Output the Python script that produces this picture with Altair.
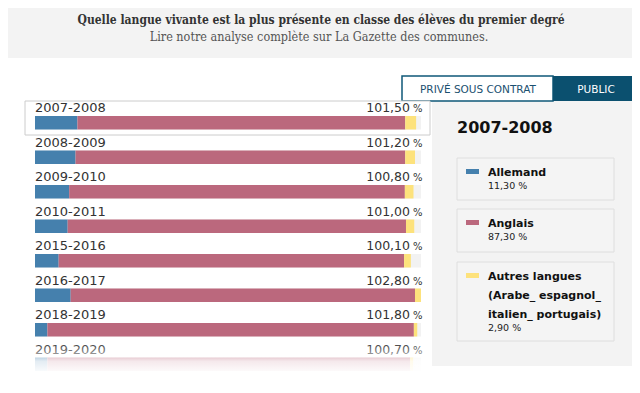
import altair as alt
import pandas as pd

# ---------------- data ----------------
YEARS = ["2007-2008", "2008-2009", "2009-2010", "2010-2011",
         "2015-2016", "2016-2017", "2018-2019", "2019-2020"]
ALLEMAND = [11.3, 10.8, 9.1, 8.7, 6.3, 9.5, 3.3, 3.3]
ANGLAIS = [87.3, 87.8, 89.4, 90.1, 92.0, 91.7, 97.6, 96.6]
AUTRES = [2.9, 2.6, 2.3, 2.2, 1.8, 1.6, 0.9, 0.8]
TOTALS = [101.5, 101.2, 100.8, 101.0, 100.1, 102.8, 101.8, 100.7]
LANGS = ["Allemand", "Anglais", "Autres langues"]
LEGEND_LINES = [["Allemand"], ["Anglais"],
                ["Autres langues", "(Arabe_ espagnol_", "italien_ portugais)"]]
COLORS = ["#4580ad", "#bb687d", "#fde27c"]
SELECTED = "2007-2008"
TITLE = "Quelle langue vivante est la plus présente en classe des élèves du premier degré"
SUBTITLE = "Lire notre analyse complète sur La Gazette des communes."
BUTTONS = ["PRIVÉ SOUS CONTRAT", "PUBLIC"]

SANS = "DejaVu Sans"
SERIF = "DejaVu Serif Condensed, Liberation Serif"


def fr(v):
    return f"{v:.2f}".replace(".", ",")


series = [ALLEMAND, ANGLAIS, AUTRES]
rows = []
for i, yr in enumerate(YEARS):
    for k, lang in enumerate(LANGS):
        rows.append(dict(year=yr, lang=lang, value=series[k][i], order=k))
long = pd.DataFrame(rows)
tot = pd.DataFrame(dict(year=YEARS, total=TOTALS,
                        label=[fr(t) for t in TOTALS],
                        track=[max(TOTALS)] * len(YEARS)))
one = pd.DataFrame({"a": [0]})

W, H = 624, 377
xs = alt.Scale(domain=[0, max(TOTALS)], range=[27, 413], nice=False, zero=True)
ys = alt.Scale(type="band", domain=YEARS, range=[108, 363],
               paddingInner=0.609, paddingOuter=0)
cs = alt.Scale(domain=LANGS, range=COLORS)


def rect(x, x2, y, y2, **kw):
    return alt.Chart(one).mark_rect(**kw).encode(
        x=alt.value(x), x2=alt.value(x2), y=alt.value(y), y2=alt.value(y2))


def txt(s, x, y, **kw):
    return alt.Chart(pd.DataFrame({"t": [s]})).mark_text(**kw).encode(
        x=alt.value(x), y=alt.value(y), text="t:N")


layers = []
# header band
layers.append(rect(0, W, 0, 50, fill="#f3f3f3"))
layers.append(txt(TITLE, 313, 16, font=SERIF, fontSize=12, fontWeight="bold",
                  color="#333333", align="center", baseline="alphabetic"))
layers.append(txt(SUBTITLE, 311, 33, font=SERIF, fontSize=12.5,
                  color="#555555", align="center", baseline="alphabetic"))
# right panel background
layers.append(rect(424, W, 93, 358, fill="#f3f3f3"))
# buttons
layers.append(rect(394, 545, 68, 93, fill="#ffffff", stroke="#0f5878", strokeWidth=1.5))
layers.append(rect(545, W, 68, 93, fill="#0b506f"))
layers.append(txt(BUTTONS[0], 470, 84.5, font=SANS, fontSize=10.5, color="#1b5070",
                  align="center", baseline="alphabetic"))
layers.append(txt(BUTTONS[1], 588, 84.5, font=SANS, fontSize=10.5, color="#ffffff",
                  align="center", baseline="alphabetic"))
# selected row box
layers.append(rect(17, 422, 93, 127, fill="#ffffff", stroke="#cccccc", strokeWidth=1))

# tracks
layers.append(alt.Chart(tot).mark_bar(color="#f2f2f2").encode(
    x=alt.X("track:Q", scale=xs, axis=None), x2=alt.datum(0),
    y=alt.Y("year:N", scale=ys, axis=None)))
# stacked bars
layers.append(alt.Chart(long).mark_bar().encode(
    x=alt.X("value:Q", stack="zero", scale=xs, axis=None),
    y=alt.Y("year:N", scale=ys, axis=None),
    color=alt.Color("lang:N", scale=cs, legend=None),
    order=alt.Order("order:Q")))
# year labels
layers.append(alt.Chart(tot).mark_text(font=SANS, fontSize=13, color="#333333",
                                        align="left", baseline="alphabetic", dy=-10.5).encode(
    x=alt.value(27), y=alt.Y("year:N", scale=ys, axis=None), text="year:N"))
layers.append(alt.Chart(tot).mark_text(font=SANS, fontSize=12.5, color="#333333",
                                        align="right", baseline="alphabetic", dy=-10.5).encode(
    x=alt.value(402), y=alt.Y("year:N", scale=ys, axis=None), text="label:N"))
layers.append(alt.Chart(tot).mark_text(font=SANS, fontSize=10, color="#333333",
                                        align="left", baseline="alphabetic", dy=-10.5).encode(
    x=alt.value(405), y=alt.Y("year:N", scale=ys, axis=None), text=alt.value("%")))

# fade overlay on the last row
fade = alt.Gradient(gradient="linear", x1=0, x2=0, y1=0, y2=1, stops=[
    alt.GradientStop(color="rgba(255,255,255,0)", offset=0),
    alt.GradientStop(color="rgba(255,255,255,0.45)", offset=0.35),
    alt.GradientStop(color="rgba(255,255,255,0.85)", offset=0.6),
    alt.GradientStop(color="rgba(255,255,255,1)", offset=1)])
layers.append(rect(17, 424, 334, 366, fill=fade))

# panel: selected year and legend boxes
sel = YEARS.index(SELECTED)
layers.append(txt(SELECTED, 449, 125, font=SANS, fontSize=16, fontWeight="bold",
                  color="#111111", align="left", baseline="alphabetic"))
boxes = [(150, 192), (201, 244), (254, 333)]
for k in range(3):
    b0, b1 = boxes[k]
    layers.append(rect(449, 606, b0, b1, fill="#f4f4f4", stroke="#dedede", strokeWidth=1))
    layers.append(rect(458, 471, b0 + 11, b0 + 16, fill=COLORS[k]))
    for j, line in enumerate(LEGEND_LINES[k]):
        layers.append(txt(line, 480, b0 + 18 + 19 * j, font=SANS, fontSize=11,
                          fontWeight="bold", color="#111111", align="left",
                          baseline="alphabetic"))
    nlines = len(LEGEND_LINES[k])
    layers.append(txt(fr(series[k][sel]) + " %", 480, b0 + 18 + 19 * (nlines - 1) + 13,
                      font=SANS, fontSize=9.5, color="#222222", align="left",
                      baseline="alphabetic"))

chart = alt.layer(*layers).properties(
    width=W, height=H, padding=0, autosize=alt.AutoSizeParams(type="none"),
    background="#ffffff"
).configure_view(stroke=None)

chart.save("out.html", embed_options={"renderer": "svg", "actions": False})
